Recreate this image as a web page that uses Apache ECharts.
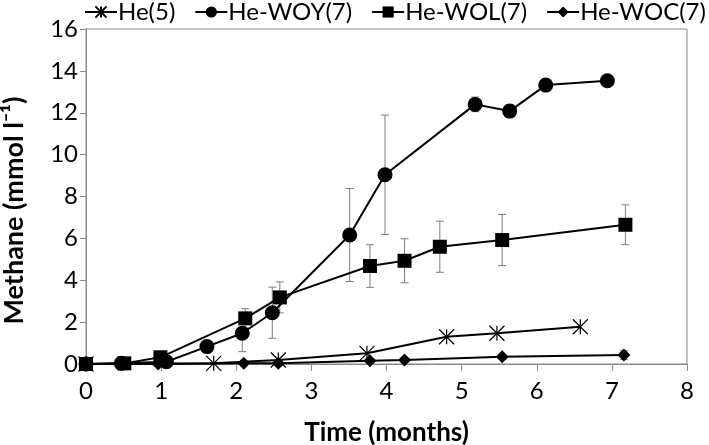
<!DOCTYPE html>
<html><head><meta charset="utf-8">
<script src="https://cdn.jsdelivr.net/npm/echarts@6/dist/echarts.min.js"></script>
<style>html,body{margin:0;padding:0;background:#fff}#c{width:709px;height:445px}</style>
</head><body><div id="c"></div>
<script>
// Data
const heX   = [0, 1.70, 2.56, 3.74, 4.80, 5.47, 6.58];
const heY   = [0, 0.03, 0.19, 0.51, 1.30, 1.47, 1.78];

const woyX  = [0, 0.47, 1.07, 1.61, 2.08, 2.48, 3.51, 3.98, 5.18, 5.64, 6.12, 6.94];
const woyY  = [0, 0.03, 0.11, 0.83, 1.47, 2.45, 6.16, 9.04, 12.40, 12.08, 13.32, 13.53];
const woyE  = [0, 0, 0, 0, 0.88, 1.22, 2.22, 2.85, 0.35, 0.3, 0.2, 0.2];

const wolX  = [0, 0.51, 0.99, 2.12, 2.58, 3.78, 4.24, 4.71, 5.54, 7.18];
const wolY  = [0, 0.03, 0.32, 2.18, 3.18, 4.68, 4.93, 5.60, 5.92, 6.65];
const wolE  = [0, 0, 0.1, 0.46, 0.74, 1.02, 1.05, 1.22, 1.22, 0.95];

const wocX  = [0, 0.96, 2.10, 2.56, 3.78, 4.24, 5.54, 7.16];
const wocY  = [0, 0.00, 0.03, 0.03, 0.16, 0.19, 0.35, 0.43];
const wocE  = [0, 0, 0, 0, 0.05, 0.05, 0.08, 0.22];

const seriesNames = ['He(5)', 'He-WOY(7)', 'He-WOL(7)', 'He-WOC(7)'];
const xTicks = [0, 1, 2, 3, 4, 5, 6, 7, 8];
const yTicks = [0, 2, 4, 6, 8, 10, 12, 14, 16];

const pts = (xs, ys) => xs.map((x, i) => [x, ys[i]]);
const errs = (xs, ys, es) => xs.map((x, i) => [x, ys[i] - es[i], ys[i] + es[i]]).filter((d, i) => es[i] > 0);

const FONT = 'Lato';
const starPath = 'path://M0,0L10,10M10,0L0,10M5,0L5,10';

function errSeries(data) {
  return {
    type: 'custom', z: 1, silent: true,
    data: data,
    renderItem: function (params, api) {
      const x = api.value(0), lo = api.value(1), hi = api.value(2);
      const pLo = api.coord([x, lo]), pHi = api.coord([x, hi]);
      const w = 4;
      const st = { stroke: '#7f7f7f', lineWidth: 1 };
      return { type: 'group', children: [
        { type: 'line', shape: { x1: pLo[0], y1: pLo[1], x2: pHi[0], y2: pHi[1] }, style: st },
        { type: 'line', shape: { x1: pLo[0] - w, y1: pLo[1], x2: pLo[0] + w, y2: pLo[1] }, style: st },
        { type: 'line', shape: { x1: pHi[0] - w, y1: pHi[1], x2: pHi[0] + w, y2: pHi[1] }, style: st }
      ]};
    }
  };
}

function lineSeries(name, data, symbol, size, extra) {
  return Object.assign({
    name: name, type: 'line', data: data, z: 3,
    symbol: symbol, symbolSize: size, showAllSymbol: true,
    lineStyle: { color: '#000', width: 2 },
    itemStyle: { color: '#000' },
    emphasis: { disabled: true },
    animation: false
  }, extra || {});
}

const chart = echarts.init(document.getElementById('c'), null, { renderer: 'canvas' });
chart.setOption({
  animation: false,
  textStyle: { fontFamily: FONT },
  legend: {
    top: 0, left: 84, width: 680, padding: 0,
    itemWidth: 32, itemHeight: 14, itemGap: 19,
    textStyle: { fontFamily: FONT, fontSize: 24, color: '#000', padding: [0, 0, 0, -4] },
    data: seriesNames
  },
  grid: { left: 86, right: 22, top: 29, bottom: 81, show: true, borderColor: '#8a8a8a', borderWidth: 1,
    containLabel: false, outerBoundsMode: 'none' },
  xAxis: {
    type: 'value', min: 0, max: 8, interval: 1,
    name: 'Time (months)', nameLocation: 'middle', nameGap: 56,
    nameTextStyle: { fontFamily: FONT, fontSize: 26, fontWeight: 'bold', color: '#000' },
    axisLine: { lineStyle: { color: '#8a8a8a', width: 1 } },
    axisTick: { show: true, length: 7, lineStyle: { color: '#8a8a8a' } },
    axisLabel: { fontFamily: FONT, fontSize: 24, color: '#000', margin: 15,
      formatter: v => xTicks.indexOf(v) >= 0 ? String(v) : '' },
    splitLine: { show: false }
  },
  yAxis: {
    type: 'value', min: 0, max: 16, interval: 2,
    name: 'Methane (mmol l\u207B\u00B9)', nameLocation: 'middle', nameGap: 58,
    nameTextStyle: { fontFamily: FONT, fontSize: 27, fontWeight: 'bold', color: '#000', padding: [0, 28, 0, 0] },
    axisLine: { show: true, lineStyle: { color: '#8a8a8a', width: 1 } },
    axisTick: { show: true, length: 6, lineStyle: { color: '#8a8a8a' } },
    axisLabel: { fontFamily: FONT, fontSize: 24, color: '#000', margin: 8,
      formatter: v => yTicks.indexOf(v) >= 0 ? String(v) : '' },
    splitLine: { show: false }
  },
  series: [
    errSeries(errs(woyX, woyY, woyE)),
    errSeries(errs(wolX, wolY, wolE)),
    errSeries(errs(wocX, wocY, wocE)),
    lineSeries(seriesNames[0], pts(heX, heY), starPath, 15,
      { itemStyle: { color: '#000', borderColor: '#000', borderWidth: 1.2 } }),
    lineSeries(seriesNames[1], pts(woyX, woyY), 'circle', 15),
    lineSeries(seriesNames[2], pts(wolX, wolY), 'rect', 14),
    lineSeries(seriesNames[3], pts(wocX, wocY), 'diamond', 13)
  ]
});
</script>
</body></html>
